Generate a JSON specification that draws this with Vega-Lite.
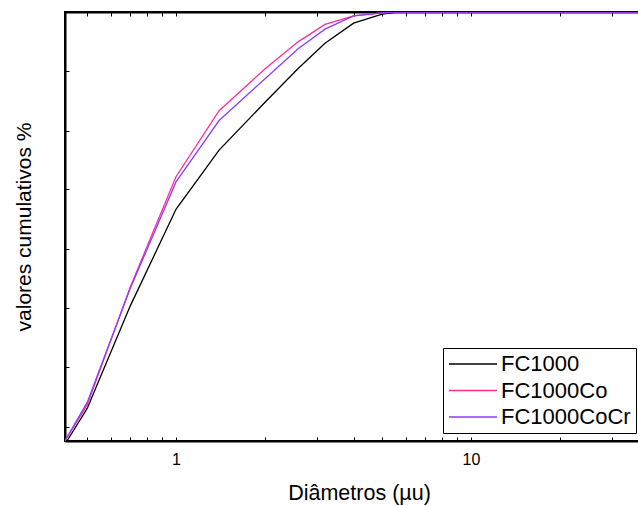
{
  "$schema": "https://vega.github.io/schema/vega-lite/v6.json",
  "width": 580,
  "height": 429,
  "autosize": {"type": "none"},
  "padding": {"left": 65, "top": 12, "right": 0, "bottom": 65},
  "background": "white",
  "config": {
    "font": "Liberation Sans",
    "view": {"stroke": "#000000", "strokeWidth": 2}
  },
  "data": {
    "values": [
      {"d": 0.427, "v": 0, "s": "FC1000"},
      {"d": 0.5, "v": 7.6, "s": "FC1000"},
      {"d": 0.7, "v": 31.5, "s": "FC1000"},
      {"d": 1.0, "v": 54.0, "s": "FC1000"},
      {"d": 1.4, "v": 67.8, "s": "FC1000"},
      {"d": 2.0, "v": 78.9, "s": "FC1000"},
      {"d": 2.6, "v": 86.9, "s": "FC1000"},
      {"d": 3.2, "v": 92.7, "s": "FC1000"},
      {"d": 4.0, "v": 97.4, "s": "FC1000"},
      {"d": 5.0, "v": 99.5, "s": "FC1000"},
      {"d": 5.6, "v": 100, "s": "FC1000"},
      {"d": 8.0, "v": 100, "s": "FC1000"},
      {"d": 16, "v": 100, "s": "FC1000"},
      {"d": 45, "v": 100, "s": "FC1000"},
      {"d": 0.42, "v": 0, "s": "FC1000Co"},
      {"d": 0.5, "v": 8.4, "s": "FC1000Co"},
      {"d": 0.7, "v": 35.9, "s": "FC1000Co"},
      {"d": 1.0, "v": 61.6, "s": "FC1000Co"},
      {"d": 1.4, "v": 77.0, "s": "FC1000Co"},
      {"d": 2.0, "v": 86.7, "s": "FC1000Co"},
      {"d": 2.6, "v": 93.1, "s": "FC1000Co"},
      {"d": 3.2, "v": 97.1, "s": "FC1000Co"},
      {"d": 4.0, "v": 99.1, "s": "FC1000Co"},
      {"d": 5.0, "v": 99.8, "s": "FC1000Co"},
      {"d": 5.6, "v": 100, "s": "FC1000Co"},
      {"d": 8.0, "v": 100, "s": "FC1000Co"},
      {"d": 16, "v": 100, "s": "FC1000Co"},
      {"d": 45, "v": 100, "s": "FC1000Co"},
      {"d": 0.42, "v": 0, "s": "FC1000CoCr"},
      {"d": 0.5, "v": 9.0, "s": "FC1000CoCr"},
      {"d": 0.7, "v": 35.6, "s": "FC1000CoCr"},
      {"d": 1.0, "v": 60.4, "s": "FC1000CoCr"},
      {"d": 1.4, "v": 74.7, "s": "FC1000CoCr"},
      {"d": 2.0, "v": 84.4, "s": "FC1000CoCr"},
      {"d": 2.6, "v": 91.5, "s": "FC1000CoCr"},
      {"d": 3.2, "v": 96.0, "s": "FC1000CoCr"},
      {"d": 4.0, "v": 99.1, "s": "FC1000CoCr"},
      {"d": 5.0, "v": 99.8, "s": "FC1000CoCr"},
      {"d": 5.6, "v": 100, "s": "FC1000CoCr"},
      {"d": 8.0, "v": 100, "s": "FC1000CoCr"},
      {"d": 16, "v": 100, "s": "FC1000CoCr"},
      {"d": 45, "v": 100, "s": "FC1000CoCr"}
    ]
  },
  "layer": [
    {
      "mark": {"type": "line", "strokeWidth": 1.3, "clip": true},
      "encoding": {
        "x": {
          "field": "d",
          "type": "quantitative",
          "scale": {"type": "log", "domain": [0.4205, 38.9], "nice": false},
          "axis": {
            "orient": "bottom",
            "values": [0.5, 0.6, 0.7, 0.8, 0.9, 1, 2, 3, 4, 5, 6, 7, 8, 9, 10, 20, 30],
            "labelExpr": "datum.value == 1 ? '1' : (datum.value == 10 ? '10' : '')",
            "grid": false,
            "domainColor": "#000000",
            "domainWidth": 2,
            "tickColor": "#000000",
            "tickSize": -4,
            "tickWidth": 1,
            "labelFontSize": 16,
            "labelColor": "#000000",
            "labelPadding": 14,
            "labelFlush": false,
            "labelOverlap": false,
            "title": "Diâmetros (µu)",
            "titleFontSize": 21.5,
            "titleFontWeight": "normal",
            "titleColor": "#000000",
            "titleX": 294,
            "titleY": 58,
            "titleBaseline": "alphabetic"
          }
        },
        "y": {
          "field": "v",
          "type": "quantitative",
          "scale": {"domain": [0, 100], "nice": false, "zero": true},
          "axis": {
            "orient": "left",
            "values": [3.33, 17.3, 31.0, 44.8, 58.7, 72.3, 86.3],
            "labels": false,
            "grid": false,
            "domainColor": "#000000",
            "domainWidth": 2,
            "tickColor": "#000000",
            "tickSize": -4,
            "tickWidth": 1,
            "title": "valores cumulativos %",
            "titleFontSize": 21,
            "titleFontWeight": "normal",
            "titleColor": "#000000",
            "titlePadding": 30
          }
        },
        "color": {
          "field": "s",
          "type": "nominal",
          "scale": {
            "domain": ["FC1000", "FC1000Co", "FC1000CoCr"],
            "range": ["#000000", "#ff2d95", "#8c3cff"]
          },
          "legend": {
            "title": null,
            "orient": "none",
            "legendX": 378,
            "legendY": 336,
            "symbolType": "M-2.4,0H2.4",
            "symbolSize": 400,
            "symbolStrokeWidth": 1.3,
            "symbolOffset": 14,
            "labelFontSize": 22,
            "labelColor": "#000000",
            "labelOffset": 17,
            "rowPadding": 4.5,
            "padding": 5,
            "strokeColor": "#000000",
            "fillColor": "#ffffff",
            "cornerRadius": 0
          }
        }
      }
    },
    {
      "mark": {"type": "point", "opacity": 0},
      "encoding": {
        "x": {
          "field": "d",
          "type": "quantitative",
          "axis": {
            "orient": "top",
            "values": [0.5, 0.6, 0.7, 0.8, 0.9, 1, 2, 3, 4, 5, 6, 7, 8, 9, 10, 20, 30],
            "labels": false,
            "grid": false,
            "domainColor": "#000000",
            "domainWidth": 2,
            "tickColor": "#000000",
            "tickSize": -4,
            "tickWidth": 1,
            "title": null
          }
        },
        "y": {"field": "v", "type": "quantitative"}
      }
    }
  ],
  "resolve": {"axis": {"x": "independent"}}
}
